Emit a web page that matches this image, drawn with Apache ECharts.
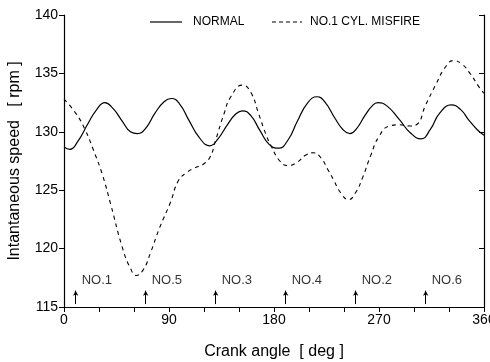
<!DOCTYPE html>
<html>
<head>
<meta charset="utf-8">
<script src="https://cdn.jsdelivr.net/npm/echarts@6/dist/echarts.min.js"></script>
<style>
  html, body { margin: 0; padding: 0; background: #fff; }
  #main { width: 490px; height: 362px; }
</style>
</head>
<body>
<div id="main"></div>
<script>
// crank angle [deg] / speed [rpm]
var normalAngle = [0, 5, 12, 20, 28, 35, 42, 50, 57, 63, 70, 78, 86, 92, 99, 107, 116, 125, 132, 140, 147, 153, 160, 168, 176, 184, 192, 200, 209, 217, 224, 232, 239, 245, 251, 258, 264, 269, 277, 287, 297, 306, 314, 322, 332, 340, 347, 354, 360];
var normalSpeed = [128.7, 128.5, 129.2, 130.6, 131.9, 132.5, 132.0, 130.9, 130.0, 129.85, 130.3, 131.6, 132.6, 132.85, 132.4, 131.0, 129.5, 128.8, 129.4, 130.6, 131.5, 131.8, 131.4, 130.1, 128.9, 128.6, 129.3, 130.9, 132.5, 133.0, 132.5, 131.2, 130.2, 129.85, 130.3, 131.4, 132.2, 132.5, 132.2, 131.1, 129.9, 129.4, 130.2, 131.6, 132.3, 131.9, 131.0, 130.2, 129.7];

var misfireAngle = [0, 10, 18, 25, 33, 40, 50, 57, 62, 68, 74, 82, 91, 98, 105, 112, 119, 125, 130, 137, 143, 153, 160, 167, 173, 178, 185, 192, 200, 207, 214, 220, 226, 231, 237, 244, 250, 256, 263, 270, 279, 288, 296, 302, 310, 319, 326, 334, 341, 348, 356, 360];
var misfireSpeed = [132.8, 131.6, 130.2, 128.5, 126.3, 123.8, 120.1, 118.3, 117.7, 118.2, 119.6, 121.8, 123.9, 125.8, 126.5, 126.9, 127.2, 127.8, 129.3, 131.5, 133.0, 134.0, 133.4, 131.5, 129.8, 128.7, 127.5, 127.1, 127.4, 128.0, 128.2, 127.8, 126.8, 125.9, 124.8, 124.2, 124.8, 126.1, 128.0, 129.6, 130.5, 130.6, 130.5, 130.6, 132.3, 134.1, 135.4, 136.1, 135.8, 135.0, 133.8, 133.3];

// firing order marks
var cylNames = ['NO.1', 'NO.5', 'NO.3', 'NO.4', 'NO.2', 'NO.6'];
var cylAngle = [10, 70, 130, 190, 250, 310];

function pairs(xs, ys) {
  var out = [];
  for (var i = 0; i < xs.length; i++) out.push([xs[i], ys[i]]);
  return out;
}

var arrowLines = [];
var cylLabels = [];
for (var i = 0; i < cylAngle.length; i++) {
  arrowLines.push([{coord: [cylAngle[i], 115.25]}, {coord: [cylAngle[i], 116.4]}]);
  cylLabels.push({name: cylNames[i], value: [cylAngle[i], 117.3]});
}

var font = 'Liberation Sans, Arial, sans-serif';
var chart = echarts.init(document.getElementById('main'));
var option = {
  animation: false,
  textStyle: {fontFamily: font, color: '#000'},
  grid: {left: 64, right: 6, top: 15, bottom: 55, outerBoundsMode: 'none'},
  // legend drawn by hand: line sample + text
  graphic: [
    {type: 'line', shape: {x1: 150, y1: 22, x2: 182, y2: 22}, style: {stroke: '#000', lineWidth: 1.2}},
    {type: 'text', left: 193, top: 16, style: {text: 'NORMAL', fontSize: 12, fill: '#000', font: '12px Liberation Sans, Arial, sans-serif'}},
    {type: 'line', shape: {x1: 272, y1: 22, x2: 302, y2: 22}, style: {stroke: '#000', lineWidth: 1.1, lineDash: [4, 3]}},
    {type: 'text', left: 310, top: 16, style: {text: 'NO.1 CYL. MISFIRE', fontSize: 12, fill: '#000', font: '12px Liberation Sans, Arial, sans-serif'}}
  ],
  xAxis: {
    type: 'value',
    min: 0,
    max: 360,
    interval: 30,
    name: 'Crank angle  [ deg ]',
    nameLocation: 'middle',
    nameGap: 37,
    nameTextStyle: {fontSize: 16, color: '#000', fontFamily: font},
    axisLine: {lineStyle: {color: '#000', width: 1.2}},
    axisTick: {length: 5, lineStyle: {color: '#000'}},
    axisLabel: {
      fontSize: 14, color: '#000', margin: 6,
      formatter: function (v) { return v % 90 === 0 ? String(v) : ''; }
    },
    splitLine: {show: false}
  },
  yAxis: [{
    type: 'value',
    min: 115,
    max: 140,
    interval: 5,
    name: 'Intantaneous speed   [ rpm ]',
    nameLocation: 'middle',
    nameGap: 41,
    nameTextStyle: {fontSize: 16, color: '#000', fontFamily: font},
    axisLine: {show: true, lineStyle: {color: '#000', width: 1.2}},
    axisTick: {show: true, length: 5, lineStyle: {color: '#000'}},
    axisLabel: {fontSize: 14, color: '#000', margin: 6},
    splitLine: {show: false}
  }, {
    type: 'value',
    position: 'right',
    min: 115,
    max: 140,
    interval: 5,
    axisLine: {show: true, lineStyle: {color: '#000', width: 1.2}},
    axisTick: {show: true, inside: true, length: 5, lineStyle: {color: '#000'}},
    axisLabel: {show: false},
    splitLine: {show: false}
  }],
  series: [{
    name: 'NORMAL',
    type: 'line',
    smooth: 0.5,
    symbol: 'none',
    lineStyle: {color: '#000', width: 1.2},
    itemStyle: {color: '#000'},
    data: pairs(normalAngle, normalSpeed)
  }, {
    name: 'NO.1 CYL. MISFIRE',
    type: 'line',
    smooth: 0.5,
    symbol: 'none',
    lineStyle: {color: '#000', width: 1.1, type: [4, 4]},
    itemStyle: {color: '#000'},
    data: pairs(misfireAngle, misfireSpeed)
  }, {
    name: 'cyl',
    type: 'scatter',
    symbolSize: 0,
    silent: true,
    data: cylLabels,
    label: {
      show: true,
      position: 'right',
      distance: 6,
      formatter: '{b}',
      fontSize: 13,
      color: '#000',
      fontFamily: font
    },
    markLine: {
      silent: true,
      symbol: ['none', 'arrow'],
      symbolSize: [4, 5],
      label: {show: false},
      lineStyle: {color: '#000', width: 1, type: 'solid'},
      data: arrowLines
    }
  }]
};
chart.setOption(option);
</script>
</body>
</html>
